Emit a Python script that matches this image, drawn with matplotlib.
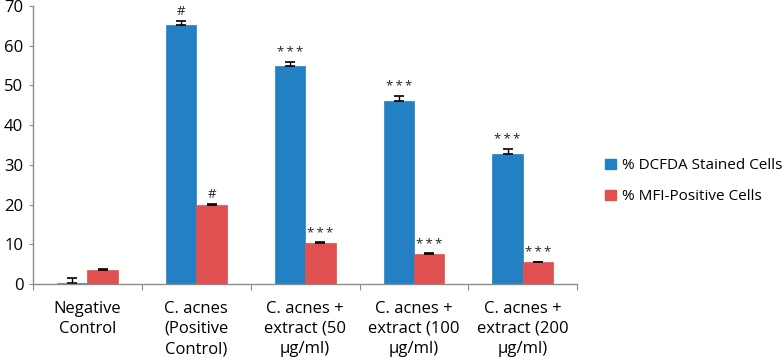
import matplotlib
matplotlib.use("Agg")
import matplotlib.pyplot as plt
import numpy as np
from matplotlib.patches import Patch

plt.rcParams['font.family'] = ['Open Sans', 'DejaVu Sans']

# data
categories = ["Negative\nControl", "C. acnes\n(Positive\nControl)",
              "C. acnes +\nextract (50\n\u00b5g/ml)", "C. acnes +\nextract (100\n\u00b5g/ml)",
              "C. acnes +\nextract (200\n\u00b5g/ml)"]
dcfda = [0.3, 65.2, 55.0, 46.2, 32.8]
dcfda_err = [1.1, 1.1, 1.0, 1.2, 1.2]
mfi = [3.6, 20.0, 10.3, 7.6, 5.5]
mfi_err = [0.15, 0.1, 0.15, 0.1, 0.1]
dcfda_marks = ["", "#", "***", "***", "***"]
mfi_marks = ["", "#", "***", "***", "***"]
series_names = ["% DCFDA Stained Cells", "% MFI-Positive Cells"]

blue = "#2381c3"
red = "#e05050"
axis_gray = "#8c8c8c"

fig = plt.figure(figsize=(7.82, 3.59), dpi=100)
ax = fig.add_axes([0.0422, 0.209, 0.696, 0.774])

x = np.arange(len(categories))
w = 0.28
ax.bar(x - w/2, dcfda, w, color=blue, edgecolor=blue, linewidth=0.5,
       yerr=[np.zeros(len(x)), dcfda_err], error_kw=dict(ecolor="black", elinewidth=1, capsize=3.5, capthick=1.2))
ax.bar(x + w/2, mfi, w, color=red, edgecolor=red, linewidth=0.5,
       yerr=[np.zeros(len(x)), mfi_err], error_kw=dict(ecolor="black", elinewidth=1, capsize=3.5, capthick=1.2))

def mark_text(m):
    # the stars are spread out in the original
    return "\u2009".join(m)

for i in range(len(x)):
    if dcfda_marks[i]:
        ax.annotate(mark_text(dcfda_marks[i]), (x[i] - w/2, dcfda[i] + dcfda_err[i]), xytext=(0, 2),
                    textcoords="offset points", ha="center", va="bottom", fontsize=9.5, color="#222222")
    if mfi_marks[i]:
        ax.annotate(mark_text(mfi_marks[i]), (x[i] + w/2, mfi[i] + mfi_err[i]), xytext=(0, 2),
                    textcoords="offset points", ha="center", va="bottom", fontsize=9.5, color="#222222")

ax.set_xlim(-0.5, len(x) - 0.5)
ax.set_ylim(0, 70)
ax.set_yticks(np.arange(0, 71, 10))
ax.tick_params(axis="y", length=3, color=axis_gray, labelsize=12, pad=4)

# boundary ticks, labels at centres
ax.set_xticks(np.arange(-0.5, len(x), 1.0))
ax.set_xticklabels([])
ax.tick_params(axis="x", which="major", length=4, color=axis_gray, direction="out")
ax.set_xticks(x, minor=True)
ax.set_xticklabels(categories, minor=True, fontsize=12, linespacing=1.35)
ax.tick_params(axis="x", which="minor", length=0, pad=12)

for s in ["top", "right"]:
    ax.spines[s].set_visible(False)
for s in ["left", "bottom"]:
    ax.spines[s].set_color(axis_gray)
    ax.spines[s].set_linewidth(1)

handles = [Patch(color=blue), Patch(color=red)]
fig.legend(handles, series_names, loc="center left", bbox_to_anchor=(0.774, 0.495),
           frameon=False, fontsize=11, handlelength=0.7, handleheight=0.7,
           handletextpad=0.4, labelspacing=1.05, borderaxespad=0, borderpad=0)

fig.savefig("out.png", dpi=100)
